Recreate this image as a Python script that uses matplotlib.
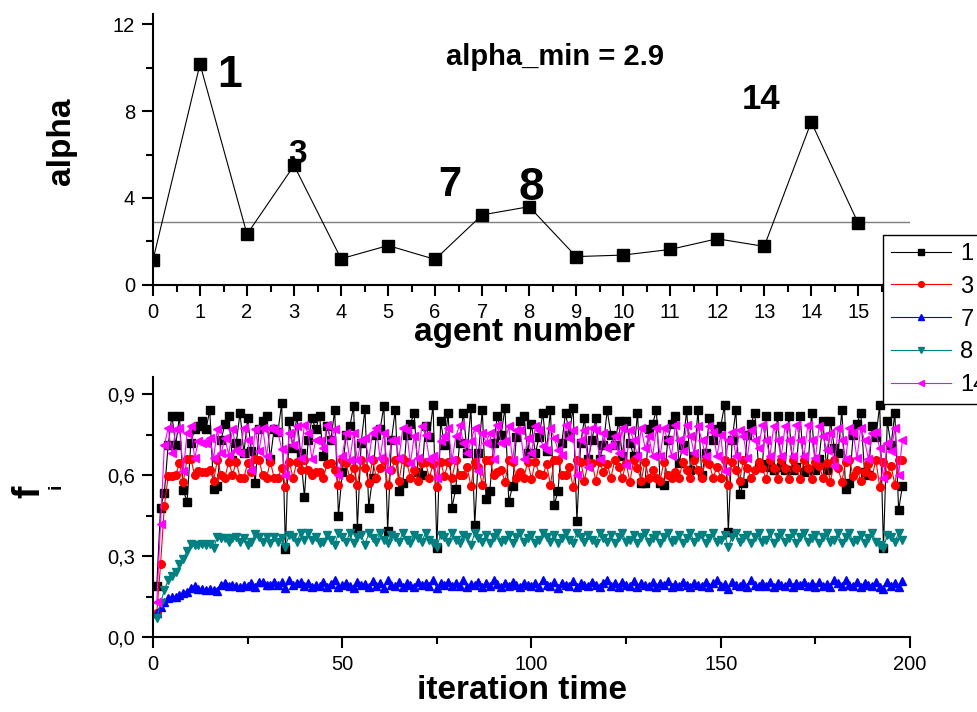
import matplotlib
matplotlib.use('Agg')
import matplotlib.pyplot as plt
import numpy as np

plt.rcParams['font.family'] = ['Liberation Sans', 'DejaVu Sans']

# top panel: alpha per agent
agents = list(range(16))
alpha = [1.15, 10.17, 2.33, 5.5, 1.2, 1.81, 1.17, 3.22, 3.6, 1.3, 1.37, 1.63, 2.12, 1.77, 7.5, 2.83]
alpha_min = 2.9

# bottom panel: f_i over iteration time (iterations 1..198)
f1 = [0.19, 0.48, 0.535, 0.71, 0.82, 0.71, 0.82, 0.545, 0.50, 0.72,
      0.77, 0.78, 0.80, 0.77, 0.84, 0.55, 0.56, 0.73, 0.79, 0.82,
      0.655, 0.72, 0.83, 0.68, 0.81, 0.69, 0.57, 0.77, 0.80, 0.82,
      0.66, 0.77, 0.76, 0.865, 0.325, 0.80, 0.70, 0.82, 0.68, 0.52,
      0.73, 0.81, 0.77, 0.82, 0.67, 0.78, 0.73, 0.84, 0.45, 0.61,
      0.75, 0.78, 0.855, 0.405, 0.72, 0.845, 0.48, 0.59, 0.75, 0.77,
      0.855, 0.394, 0.73, 0.84, 0.54, 0.57, 0.75, 0.79, 0.83, 0.61,
      0.60, 0.78, 0.74, 0.86, 0.33, 0.80, 0.71, 0.83, 0.48, 0.55,
      0.72, 0.83, 0.68, 0.85, 0.415, 0.68, 0.84, 0.51, 0.54, 0.72,
      0.82, 0.75, 0.85, 0.50, 0.56, 0.74, 0.80, 0.82, 0.68, 0.79,
      0.68, 0.74, 0.83, 0.69, 0.84, 0.49, 0.54, 0.72, 0.83, 0.75,
      0.85, 0.43, 0.72, 0.81, 0.66, 0.73, 0.81, 0.66, 0.71, 0.84,
      0.75, 0.71, 0.80, 0.67, 0.80, 0.72, 0.67, 0.83, 0.57, 0.57,
      0.77, 0.79, 0.84, 0.57, 0.565, 0.73, 0.79, 0.82, 0.645, 0.71,
      0.84, 0.62, 0.67, 0.84, 0.60, 0.68, 0.81, 0.73, 0.77, 0.78,
      0.86, 0.39, 0.73, 0.84, 0.53, 0.57, 0.75, 0.79, 0.83, 0.63,
      0.64, 0.82, 0.63, 0.62, 0.82, 0.63, 0.62, 0.82, 0.62, 0.63,
      0.82, 0.61, 0.62, 0.83, 0.62, 0.66, 0.80, 0.62, 0.80, 0.70,
      0.68, 0.84, 0.55, 0.57, 0.75, 0.79, 0.83, 0.61, 0.60, 0.78,
      0.74, 0.86, 0.33, 0.80, 0.71, 0.83, 0.47, 0.56]

f3 = [0.09, 0.27, 0.485, 0.595, 0.595, 0.60, 0.645, 0.575, 0.66, 0.66,
      0.60, 0.615, 0.61, 0.61, 0.62, 0.58, 0.655, 0.60, 0.59, 0.65,
      0.60, 0.65, 0.59, 0.59, 0.645, 0.61, 0.66, 0.655, 0.60, 0.59,
      0.65, 0.59, 0.59, 0.625, 0.555, 0.65, 0.59, 0.65, 0.62, 0.656,
      0.62, 0.60, 0.612, 0.612, 0.59, 0.64, 0.645, 0.62, 0.563, 0.656,
      0.643, 0.59, 0.625, 0.563, 0.656, 0.625, 0.572, 0.656, 0.59, 0.625,
      0.656, 0.563, 0.62, 0.656, 0.58, 0.66, 0.65, 0.59, 0.62, 0.58,
      0.645, 0.65, 0.59, 0.64, 0.555, 0.65, 0.595, 0.65, 0.59, 0.656,
      0.60, 0.60, 0.63, 0.558, 0.65, 0.63, 0.565, 0.656, 0.656, 0.60,
      0.612, 0.62, 0.575, 0.656, 0.65, 0.59, 0.612, 0.59, 0.65, 0.585,
      0.65, 0.605, 0.60, 0.64, 0.563, 0.656, 0.656, 0.60, 0.60, 0.63,
      0.555, 0.655, 0.65, 0.58, 0.65, 0.645, 0.58, 0.65, 0.612, 0.64,
      0.59, 0.656, 0.63, 0.59, 0.645, 0.575, 0.656, 0.625, 0.58, 0.65,
      0.59, 0.62, 0.59, 0.58, 0.65, 0.60, 0.59, 0.612, 0.59, 0.65,
      0.62, 0.59, 0.656, 0.62, 0.59, 0.656, 0.64, 0.59, 0.63, 0.59,
      0.656, 0.563, 0.65, 0.62, 0.58, 0.656, 0.625, 0.59, 0.62, 0.65,
      0.625, 0.585, 0.656, 0.625, 0.585, 0.656, 0.625, 0.585, 0.656, 0.625,
      0.585, 0.656, 0.625, 0.585, 0.65, 0.635, 0.59, 0.645, 0.575, 0.655,
      0.625, 0.575, 0.65, 0.656, 0.595, 0.62, 0.58, 0.612, 0.64, 0.595,
      0.656, 0.555, 0.65, 0.60, 0.635, 0.565, 0.656, 0.655]

f7 = [0.09, 0.113, 0.13, 0.144, 0.15, 0.15, 0.156, 0.163, 0.169, 0.181,
      0.19, 0.178, 0.178, 0.175, 0.178, 0.175, 0.172, 0.195, 0.20, 0.19,
      0.193, 0.19, 0.187, 0.193, 0.19, 0.20, 0.187, 0.206, 0.203, 0.193,
      0.195, 0.203, 0.193, 0.203, 0.181, 0.21, 0.193, 0.20, 0.206, 0.19,
      0.20, 0.185, 0.195, 0.19, 0.203, 0.185, 0.198, 0.21, 0.185, 0.195,
      0.20, 0.19, 0.183, 0.205, 0.192, 0.198, 0.185, 0.208, 0.19, 0.20,
      0.183, 0.21, 0.195, 0.19, 0.205, 0.185, 0.20, 0.195, 0.185, 0.203,
      0.193, 0.20, 0.19, 0.21, 0.183, 0.20, 0.192, 0.205, 0.188, 0.20,
      0.19, 0.21, 0.185, 0.198, 0.193, 0.205, 0.185, 0.20, 0.19, 0.21,
      0.198, 0.185, 0.20, 0.19, 0.205, 0.193, 0.185, 0.20, 0.195, 0.19,
      0.20, 0.185, 0.21, 0.193, 0.19, 0.205, 0.183, 0.20, 0.195, 0.19,
      0.208, 0.185, 0.20, 0.193, 0.188, 0.205, 0.195, 0.185, 0.20, 0.21,
      0.19, 0.20, 0.185, 0.205, 0.193, 0.19, 0.208, 0.185, 0.20, 0.195,
      0.19, 0.205, 0.185, 0.20, 0.193, 0.208, 0.185, 0.198, 0.19, 0.205,
      0.193, 0.185, 0.20, 0.195, 0.19, 0.205, 0.185, 0.20, 0.21, 0.19,
      0.198, 0.18, 0.205, 0.193, 0.19, 0.20, 0.185, 0.21, 0.195, 0.188,
      0.20, 0.19, 0.205, 0.185, 0.20, 0.195, 0.19, 0.205, 0.185, 0.20,
      0.193, 0.205, 0.19, 0.20, 0.185, 0.205, 0.19, 0.198, 0.185, 0.21,
      0.20, 0.19, 0.212, 0.195, 0.19, 0.205, 0.185, 0.20, 0.195, 0.19,
      0.205, 0.185, 0.18, 0.205, 0.19, 0.20, 0.185, 0.208]

f8 = [0.07, 0.127, 0.175, 0.21, 0.225, 0.24, 0.27, 0.29, 0.32, 0.345,
      0.343, 0.343, 0.345, 0.343, 0.345, 0.33, 0.372, 0.366, 0.366, 0.354,
      0.366, 0.372, 0.354, 0.366, 0.343, 0.354, 0.383, 0.372, 0.354, 0.372,
      0.35, 0.372, 0.354, 0.366, 0.335, 0.38, 0.372, 0.354, 0.385, 0.36,
      0.385, 0.36, 0.372, 0.348, 0.354, 0.38, 0.36, 0.342, 0.385, 0.372,
      0.354, 0.385, 0.348, 0.372, 0.38, 0.342, 0.385, 0.366, 0.354, 0.385,
      0.36, 0.348, 0.38, 0.372, 0.354, 0.385, 0.36, 0.348, 0.38, 0.366,
      0.354, 0.385, 0.36, 0.348, 0.335, 0.38, 0.372, 0.354, 0.385, 0.36,
      0.348, 0.38, 0.372, 0.342, 0.385, 0.366, 0.354, 0.38, 0.348, 0.372,
      0.385, 0.354, 0.36, 0.38, 0.348, 0.372, 0.385, 0.354, 0.366, 0.38,
      0.348, 0.36, 0.385, 0.372, 0.354, 0.38, 0.348, 0.366, 0.385, 0.36,
      0.348, 0.385, 0.372, 0.354, 0.38, 0.36, 0.348, 0.385, 0.366, 0.354,
      0.38, 0.348, 0.372, 0.385, 0.354, 0.36, 0.38, 0.348, 0.372, 0.385,
      0.354, 0.366, 0.38, 0.348, 0.372, 0.385, 0.354, 0.36, 0.38, 0.348,
      0.366, 0.385, 0.354, 0.372, 0.38, 0.348, 0.366, 0.385, 0.354, 0.36,
      0.38, 0.335, 0.372, 0.385, 0.354, 0.366, 0.38, 0.348, 0.372, 0.385,
      0.354, 0.36, 0.385, 0.348, 0.372, 0.385, 0.354, 0.366, 0.385, 0.348,
      0.372, 0.385, 0.354, 0.366, 0.38, 0.348, 0.372, 0.385, 0.354, 0.36,
      0.385, 0.348, 0.372, 0.385, 0.354, 0.36, 0.38, 0.348, 0.366, 0.385,
      0.354, 0.34, 0.33, 0.38, 0.372, 0.354, 0.385, 0.36]

f14 = [0.13, 0.42, 0.71, 0.775, 0.68, 0.77, 0.775, 0.614, 0.755, 0.78,
       0.663, 0.725, 0.72, 0.72, 0.737, 0.663, 0.77, 0.68, 0.737, 0.675,
       0.77, 0.694, 0.68, 0.775, 0.73, 0.62, 0.77, 0.69, 0.775, 0.67,
       0.775, 0.77, 0.76, 0.695, 0.60, 0.755, 0.71, 0.78, 0.665, 0.785,
       0.755, 0.66, 0.73, 0.725, 0.70, 0.785, 0.73, 0.77, 0.60, 0.67,
       0.755, 0.655, 0.755, 0.655, 0.73, 0.737, 0.66, 0.755, 0.773, 0.663,
       0.755, 0.62, 0.73, 0.73, 0.663, 0.773, 0.767, 0.643, 0.743, 0.663,
       0.78, 0.75, 0.66, 0.67, 0.59, 0.725, 0.743, 0.773, 0.655, 0.743,
       0.785, 0.72, 0.68, 0.725, 0.773, 0.614, 0.755, 0.72, 0.755, 0.66,
       0.785, 0.72, 0.725, 0.78, 0.655, 0.767, 0.767, 0.66, 0.737, 0.68,
       0.78, 0.767, 0.706, 0.694, 0.773, 0.737, 0.694, 0.675, 0.785, 0.737,
       0.767, 0.60, 0.73, 0.767, 0.63, 0.773, 0.767, 0.66, 0.755, 0.70,
       0.712, 0.743, 0.68, 0.773, 0.637, 0.767, 0.73, 0.67, 0.773, 0.70,
       0.743, 0.67, 0.773, 0.67, 0.773, 0.73, 0.672, 0.785, 0.73, 0.688,
       0.785, 0.743, 0.68, 0.78, 0.73, 0.67, 0.78, 0.76, 0.67, 0.75,
       0.614, 0.73, 0.76, 0.67, 0.767, 0.743, 0.663, 0.767, 0.73, 0.70,
       0.785, 0.73, 0.67, 0.78, 0.73, 0.67, 0.78, 0.73, 0.67, 0.785,
       0.73, 0.67, 0.785, 0.73, 0.663, 0.78, 0.743, 0.694, 0.755, 0.632,
       0.773, 0.73, 0.66, 0.773, 0.755, 0.663, 0.773, 0.73, 0.66, 0.755,
       0.76, 0.70, 0.59, 0.72, 0.69, 0.773, 0.60, 0.73]

series_labels = ['1', '3', '7', '8', '14']
series_values = [f1, f3, f7, f8, f14]
series_colors = ['#000000', '#ff0000', '#0000ff', '#008080', '#ff00ff']
series_markers = ['s', 'o', '^', 'v', '<']

y_ticks = [0.0, 0.3, 0.6, 0.9]
y_ticklabels = ['0,0', '0,3', '0,6', '0,9']

fig = plt.figure(figsize=(9.77, 7.12), dpi=100)
ax1 = fig.add_axes([0.1566, 0.600, 0.7748, 0.381])
ax2 = fig.add_axes([0.1566, 0.105, 0.7748, 0.3655])

for ax in (ax1, ax2):
    for s in ('top', 'right'):
        ax.spines[s].set_visible(False)
    for s in ('left', 'bottom'):
        ax.spines[s].set_linewidth(1.5)
    ax.tick_params(which='major', direction='out', length=8, width=1.5, labelsize=14.5, pad=5)
    ax.tick_params(which='minor', direction='out', length=5, width=1.5)

# top panel
ax1.axhline(alpha_min, color='#7f7f7f', lw=1.0)
ax1.plot(agents, alpha, '-s', color='k', lw=0.8, ms=8)
ax1.set_xlim(0, 16.1)
ax1.set_ylim(0, 12.5)
ax1.set_xticks(agents)
ax1.set_xticks(np.arange(0.5, 16, 1), minor=True)
ax1.set_yticks([0, 4, 8, 12])
ax1.set_yticks([2, 6, 10], minor=True)
ax1.set_ylabel('alpha', fontsize=24, fontweight='bold')
ax1.yaxis.set_label_coords(-0.1, 0.531)
ax1.set_xlabel('agent number', fontsize=24, fontweight='bold')
ax1.xaxis.set_label_coords(0.491, -0.12)

ax1.text(1.62, 9.63, '1', fontsize=32, fontweight='bold', ha='center', va='center')
ax1.text(3.07, 6.0, '3', fontsize=24, fontweight='bold', ha='center', va='center')
ax1.text(6.32, 4.6, '7', fontsize=30, fontweight='bold', ha='center', va='center')
ax1.text(8.04, 4.45, '8', fontsize=33, fontweight='bold', ha='center', va='center')
ax1.text(12.94, 8.55, '14', fontsize=25, fontweight='bold', ha='center', va='center')
ax1.text(8.55, 10.5, 'alpha_min = 2.9', fontsize=21, fontweight='bold', ha='center', va='center')

# bottom panel
handles = []
for lab, vals, col, mk in zip(series_labels, series_values, series_colors, series_markers):
    x = np.arange(1, len(vals) + 1)
    h, = ax2.plot(x, vals, marker=mk, color=col, lw=0.8, ms=5.5, mec=col, label=lab)
    handles.append(h)

ax2.set_xlim(0, 200)
ax2.set_ylim(0, 0.963)
ax2.set_xticks([0, 50, 100, 150, 200])
ax2.set_xticks([25, 75, 125, 175], minor=True)
ax2.set_yticks(y_ticks)
ax2.set_yticklabels(y_ticklabels)
ax2.set_yticks([0.15, 0.45, 0.75], minor=True)
ax2.set_xlabel('iteration time', fontsize=24, fontweight='bold')
ax2.xaxis.set_label_coords(0.488, -0.145)
# "f" with a small rotated subscript "i"
ax2.set_ylabel('f', fontsize=27, fontweight='bold')
ax2.yaxis.set_label_coords(-0.14, 0.56)
ax2.text(-0.128, 0.58, 'i', rotation=90, fontsize=14, fontweight='bold',
         ha='center', va='center', transform=ax2.transAxes)

leg = fig.legend(handles, series_labels, loc='upper left',
                 bbox_to_anchor=(883 / 977, 1 - 235 / 712), fontsize=17,
                 frameon=True, fancybox=False, framealpha=1, edgecolor='k',
                 borderpad=0.33, labelspacing=0.46, handlelength=2.55,
                 handletextpad=0.4, markerscale=0.75, borderaxespad=0)
leg.get_frame().set_linewidth(1.0)

fig.savefig('out.png', dpi=100)
